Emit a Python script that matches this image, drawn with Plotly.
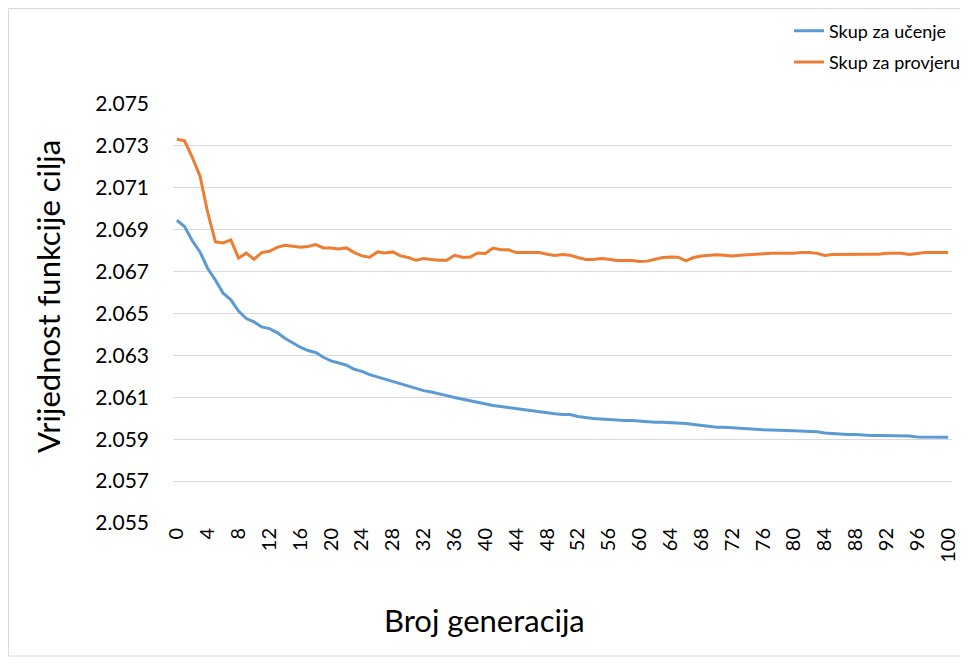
import plotly.graph_objects as go

generations = list(range(0, 101))

train_values = [
    2.06945, 2.06915, 2.06847, 2.06794, 2.06715, 2.06660, 2.06597, 2.06565, 2.06512, 2.06476,
    2.06460, 2.06436, 2.06428, 2.06409, 2.06382, 2.06360, 2.06339, 2.06323, 2.06314, 2.06291,
    2.06274, 2.06264, 2.06253, 2.06234, 2.06224, 2.06208, 2.06197, 2.06188, 2.06178, 2.06167,
    2.06154, 2.06142, 2.06132, 2.06125, 2.06118, 2.06108, 2.06099, 2.06091, 2.06083, 2.06076,
    2.06068, 2.06061, 2.06056, 2.06051, 2.06043, 2.06038, 2.06035, 2.06030, 2.06026, 2.06021,
    2.06018, 2.06018, 2.06008, 2.06002, 2.05999, 2.05997, 2.05994, 2.05992, 2.05989, 2.05989,
    2.05986, 2.05984, 2.05981, 2.05981, 2.05979, 2.05979, 2.05975, 2.05970, 2.05965, 2.05961,
    2.05957, 2.05957, 2.05954, 2.05952, 2.05949, 2.05947, 2.05945, 2.05944, 2.05944, 2.05942,
    2.05940, 2.05938, 2.05938, 2.05935, 2.05930, 2.05927, 2.05924, 2.05922, 2.05922, 2.05919,
    2.05918, 2.05918, 2.05918, 2.05915, 2.05915, 2.05915, 2.05910, 2.05909, 2.05909, 2.05909,
    2.05909,
]

valid_values = [
    2.07332, 2.07324, 2.07245, 2.07157, 2.06982, 2.06842, 2.06837, 2.06851, 2.06765, 2.06788,
    2.06759, 2.06791, 2.06797, 2.06816, 2.06826, 2.06821, 2.06816, 2.06820, 2.06829, 2.06813,
    2.06813, 2.06808, 2.06813, 2.06791, 2.06775, 2.06769, 2.06794, 2.06789, 2.06794, 2.06775,
    2.06767, 2.06754, 2.06762, 2.06758, 2.06754, 2.06754, 2.06778, 2.06769, 2.06769, 2.06789,
    2.06786, 2.06812, 2.06804, 2.06804, 2.06791, 2.06791, 2.06791, 2.06791, 2.06783, 2.06777,
    2.06782, 2.06778, 2.06767, 2.06758, 2.06758, 2.06762, 2.06759, 2.06753, 2.06753, 2.06753,
    2.06748, 2.06750, 2.06759, 2.06767, 2.06770, 2.06769, 2.06751, 2.06767, 2.06774, 2.06778,
    2.06780, 2.06778, 2.06774, 2.06778, 2.06780, 2.06785, 2.06787, 2.06787, 2.06787, 2.06787,
    2.06788, 2.06791, 2.06791, 2.06787, 2.06777, 2.06782, 2.06783, 2.06783, 2.06783, 2.06783,
    2.06783, 2.06783, 2.06787, 2.06788, 2.06787, 2.06782, 2.06788, 2.06791, 2.06791, 2.06791,
    2.06791,
]

x_tick_values = list(range(0, 101, 4))
x_tick_labels = [str(v) for v in x_tick_values]

series_names = ["Skup za učenje", "Skup za provjeru"]
x_title = "Broj generacija"
y_title = "Vrijednost funkcije cilja"

FONT = "Lato, 'Open Sans', sans-serif"

W, H = 968, 667
L, T, R, B = 165, 96, 24, 152
PW, PH = W - L - R, H - T - B


def px_x(x):
    return (x - L) / PW


def px_y(y):
    return (H - B - y) / PH


fig = go.Figure()
fig.add_trace(go.Scatter(
    x=generations, y=train_values, mode="lines", name=series_names[0],
    line=dict(color="#5b9bd5", width=3), legendgroup="a",
))
fig.add_trace(go.Scatter(
    x=generations, y=valid_values, mode="lines", name=series_names[1],
    line=dict(color="#ed7d31", width=3), legendgroup="b",
))

fig.update_layout(
    width=W, height=H,
    margin=dict(l=L, r=R, t=T, b=B, autoexpand=False),
    paper_bgcolor="white", plot_bgcolor="white",
    font=dict(family=FONT, color="#000000"),
    showlegend=True,
    legend=dict(
        x=px_x(781), y=px_y(4.5), yanchor="top", xanchor="left",
        font=dict(size=18, color="#000000", family=FONT),
        tracegroupgap=5, traceorder="grouped", itemwidth=30,
        bgcolor="rgba(0,0,0,0)",
    ),
    xaxis=dict(
        range=[-0.5, 100.5], tickmode="array", tickvals=x_tick_values, ticktext=x_tick_labels,
        tickangle=-90, tickfont=dict(size=20, family=FONT, color="#000000"),
        showgrid=False, zeroline=False, showline=False, ticks="",
    ),
    yaxis=dict(
        range=[2.055, 2.075], tick0=2.055, dtick=0.002, tickformat=".3f",
        tickfont=dict(size=21, family=FONT, color="#000000"),
        showgrid=True, gridcolor="#d9d9d9", gridwidth=1, zeroline=False,
        showline=False, ticks="", ticklabelstandoff=23,
    ),
    annotations=[
        dict(text=x_title, xref="paper", yref="paper", x=px_x(476), y=px_y(612),
             showarrow=False, font=dict(size=31, family=FONT, color="#000000"),
             xanchor="center", yanchor="middle"),
        dict(text=y_title, xref="paper", yref="paper", x=px_x(40), y=px_y(289),
             showarrow=False, textangle=-90, font=dict(size=31, family=FONT, color="#000000"),
             xanchor="center", yanchor="middle"),
    ],
    shapes=[
        dict(type="rect", xref="paper", yref="paper",
             x0=px_x(0.5), x1=px_x(958), y0=px_y(648), y1=px_y(0.5),
             line=dict(color="#d9d9d9", width=1), fillcolor="rgba(0,0,0,0)", layer="below"),
    ],
)

fig.write_html("out.html")
